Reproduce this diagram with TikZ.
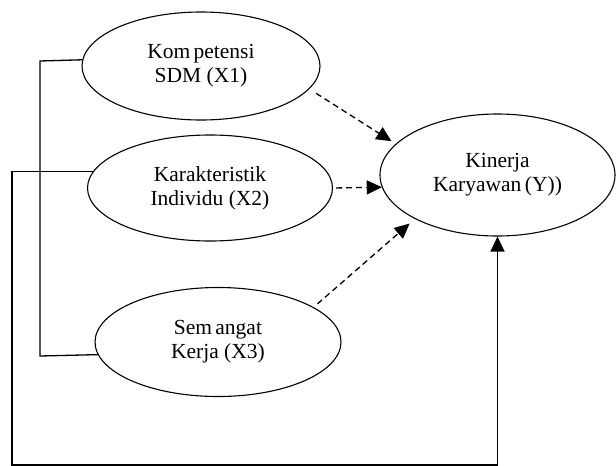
\documentclass[tikz,border=0pt]{standalone}
\usepackage{fontspec}
\setmainfont{Liberation Serif}
\usetikzlibrary{shapes.geometric,arrows.meta}
\tikzset{
  var/.style={ellipse,draw,line width=1.1pt,inner sep=0pt,align=center,
    font=\fontsize{21.5}{24}\selectfont},
  link/.style={line width=1.3pt},
  dasharrow/.style={line width=1.3pt,dash pattern=on 6pt off 4pt,
    -{Triangle[length=15pt,width=14pt]}},
  solidarrow/.style={line width=1.3pt,-{Triangle[length=15pt,width=14pt]}}
}
\begin{document}
\begin{tikzpicture}[x=1pt,y=-1pt]
\useasboundingbox (0,0) rectangle (616,466);
\node[var,minimum width=238pt,minimum height=108pt] (X1) at (201,66)
  {Kom\hspace{0.15em}petensi\\SDM (X1)};
\node[var,minimum width=245pt,minimum height=106pt] (X2) at (210,188)
  {Karakteristik\\Individu (X2)};
\node[var,minimum width=246pt,minimum height=109pt] (X3) at (218,342)
  {Sem\hspace{0.15em}angat\\Kerja (X3)};
\node[var,minimum width=235pt,minimum height=122pt] (Y) at (497.5,175)
  {Kinerja\\Karyawan\,(Y))};
\coordinate (a) at (40,61);
\coordinate (b) at (40,356);
\coordinate (c) at (12,465);
% inner bracket X1 - X3
\draw[link] (X1.177.6) -- (a) -- (b) -- (X3.186.7);
% outer path X2 -> Y
\draw[solidarrow] (X2.172.7) -| (c) -| (Y.south);
% dashed arrows
\draw[dasharrow,shorten <=8pt,shorten >=5pt] (X1.-12.8) -- (Y.163.4);
\draw[dasharrow,shorten <=3pt] (X2.east) -- (Y.186.46);
\draw[dasharrow,shorten <=5pt,shorten >=7pt] (X3.20.3) -- (Y.208.7);
\end{tikzpicture}
\end{document}
